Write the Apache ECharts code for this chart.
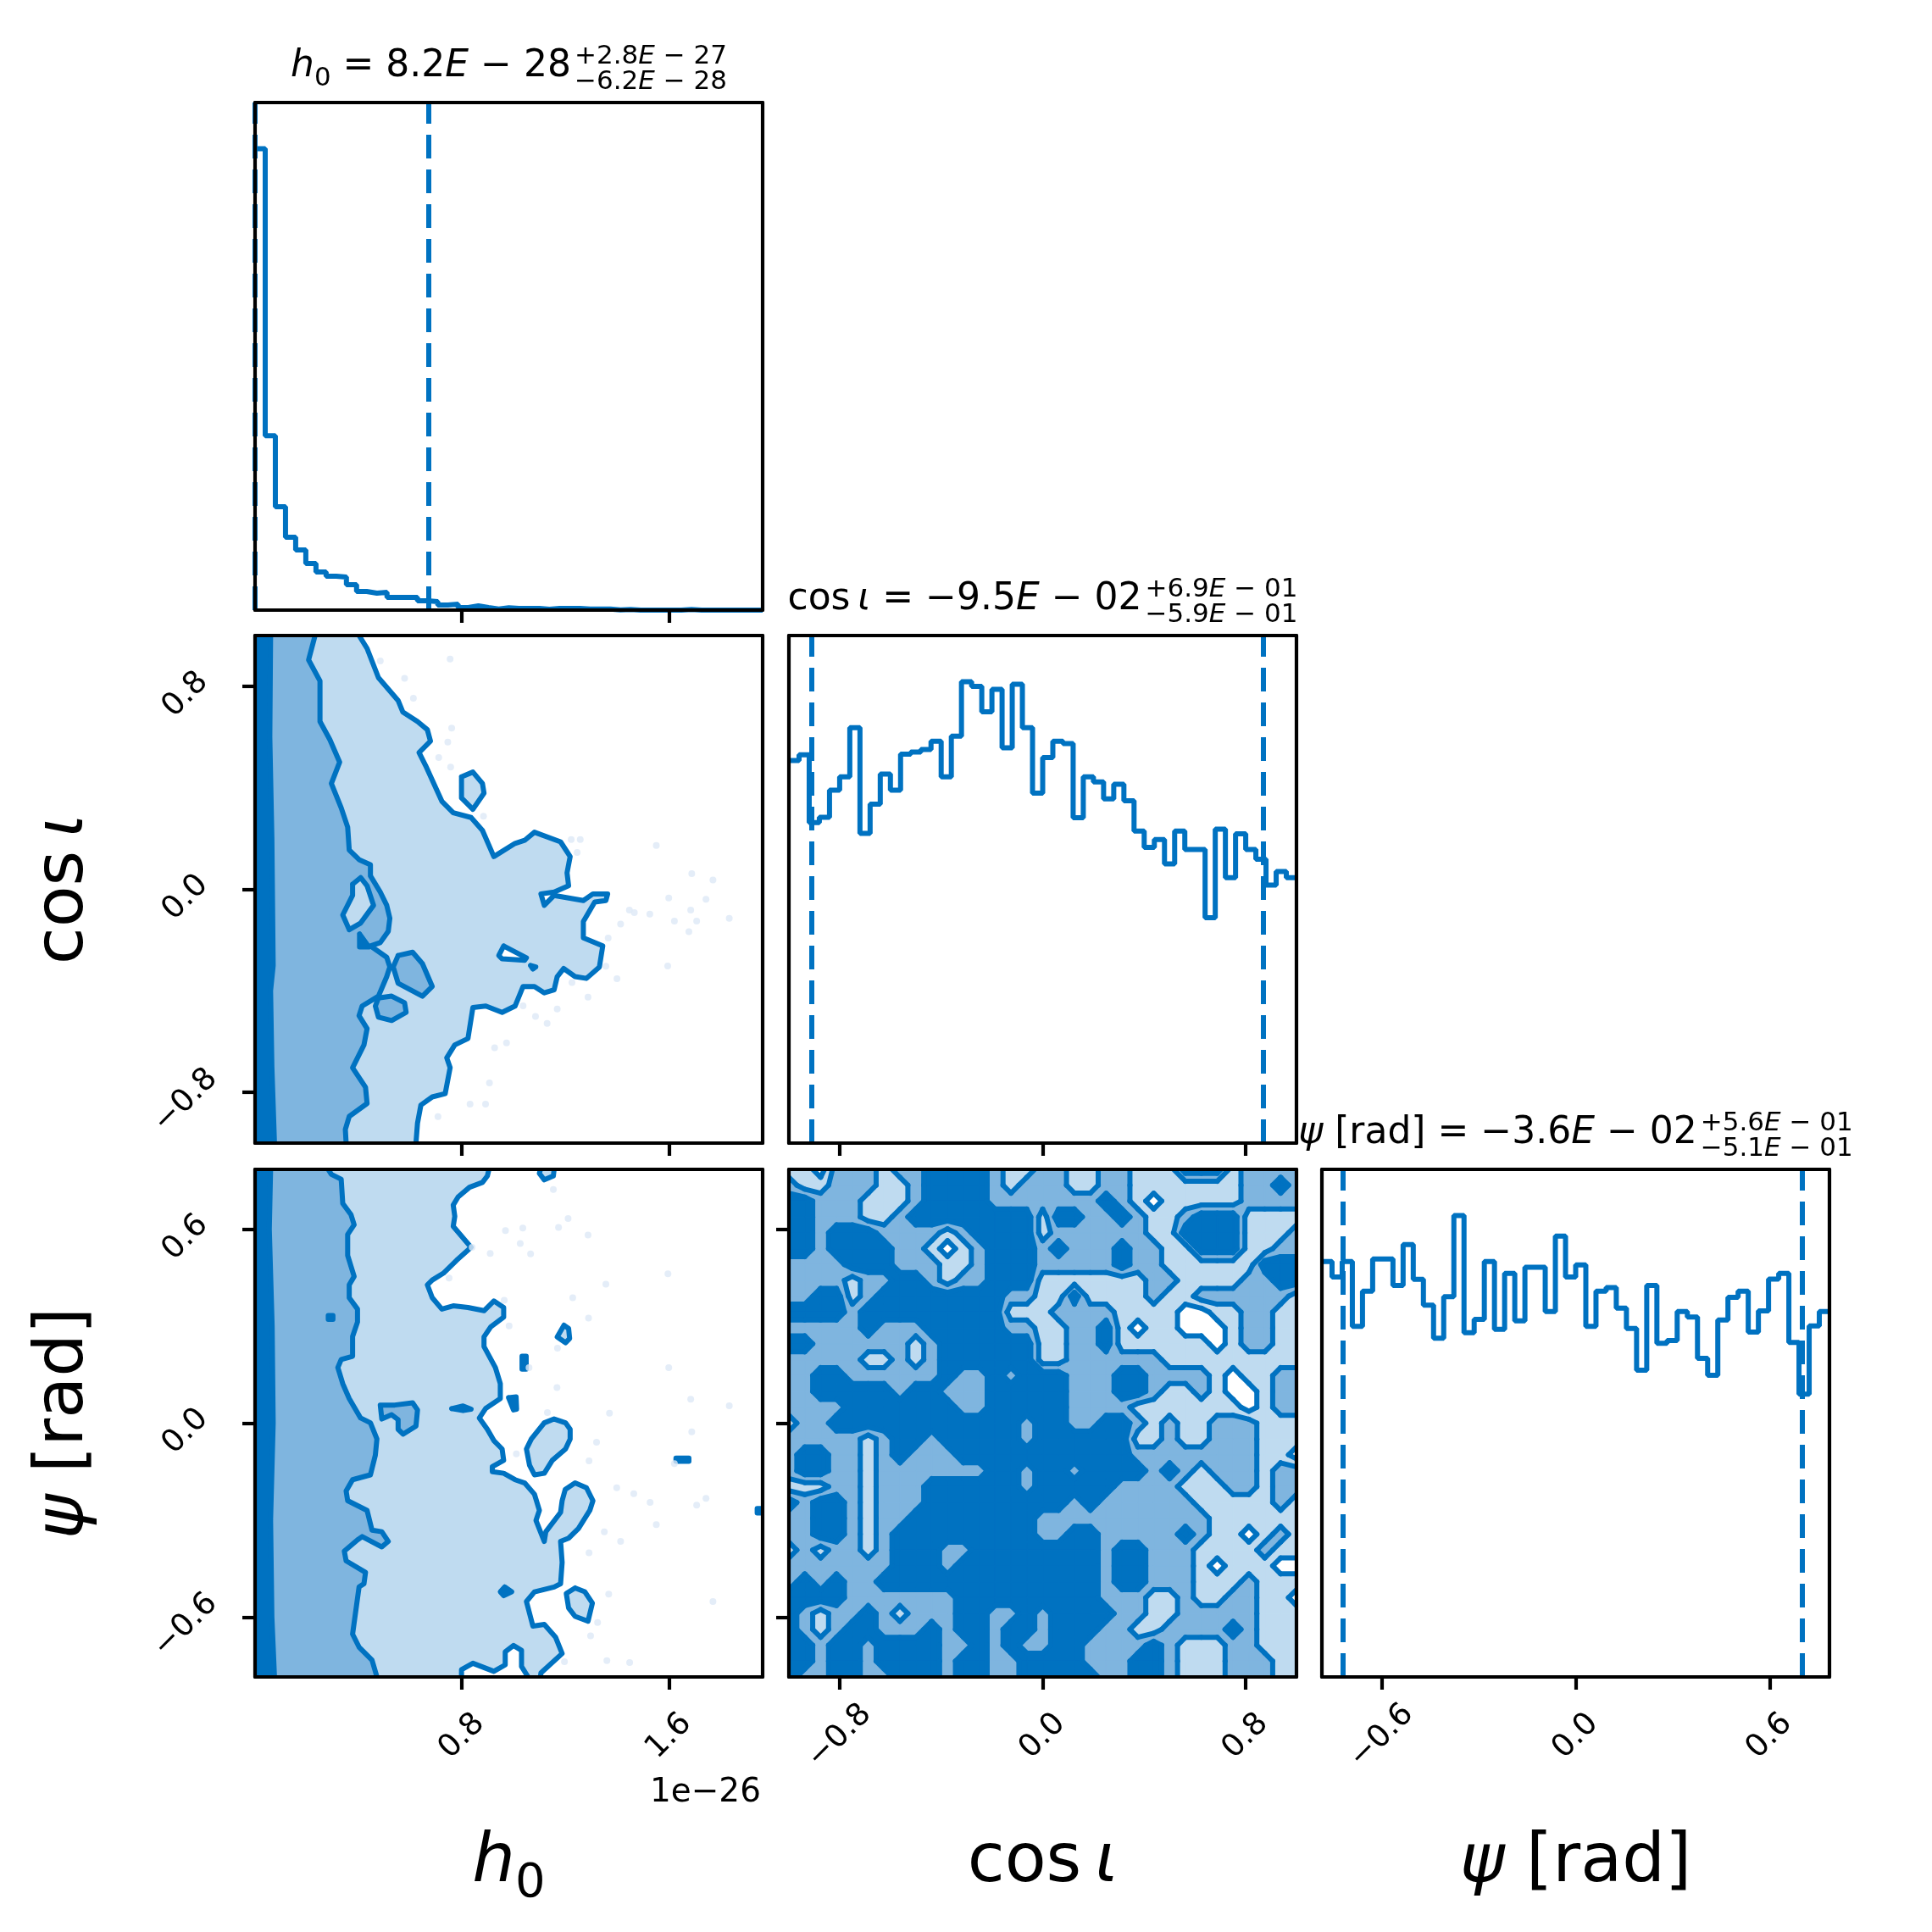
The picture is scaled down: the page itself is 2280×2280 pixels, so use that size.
<!DOCTYPE html>
<html>
<head>
<meta charset="utf-8">
<title>corner plot</title>
<script src="https://cdn.jsdelivr.net/npm/echarts@6/dist/echarts.min.js"></script>
<style>
html, body { margin: 0; padding: 0; background: #fff; }
#chart { width: 2280px; height: 2280px; }
</style>
</head>
<body>
<div id="chart"></div>
<script>
// ranges and ticks
var h0Range = [0, 1.962];
var cosRange = [-1, 1];
var psiRange = [-Math.PI / 4, Math.PI / 4];
var h0Ticks = [0.8, 1.6];
var cosTicks = [-0.8, 0, 0.8];
var psiTicks = [-0.6, 0, 0.6];

// 1d histograms (50 bins each, relative counts)
var h0Counts = [545, 206, 122, 86, 71, 55, 45, 40, 39, 30, 22, 20, 21, 15, 15, 15, 11, 10, 6, 7,
    3, 5, 3, 1.3, 2.7, 2, 2, 2, 1, 2, 2, 2, 1.3, 1.3, 1.3, 0.3, 0.7, 0, 0, 0,
    0, 0, 0.7, 0, 0, 0, 0, 0, 0, 0];
var cosCounts = [1355, 1375, 1135, 1154, 1250, 1297, 1471, 1097, 1200, 1307,
    1250, 1377, 1385, 1394, 1423, 1297, 1441, 1634, 1617, 1527,
    1607, 1400, 1625, 1471, 1239, 1365, 1423, 1415, 1152, 1297,
    1279, 1219, 1271, 1212, 1105, 1047, 1075, 989, 1105, 1040,
    1040, 798, 1112, 940, 1095, 1040, 1005, 914, 962, 940];
var psiCounts = [1472, 1417, 1472, 1242, 1367, 1481, 1481, 1387, 1532, 1409,
    1317, 1200, 1347, 1635, 1220, 1267, 1472, 1232, 1430, 1262,
    1452, 1452, 1295, 1562, 1417, 1460, 1242, 1367, 1380, 1307,
    1235, 1087, 1387, 1182, 1192, 1295, 1275, 1129, 1069, 1265,
    1345, 1367, 1222, 1297, 1410, 1430, 1185, 1002, 1244, 1295];

// dashed quantile lines
var h0Quantiles = [0.003, 0.668];
var cosQuantiles = [-0.91, 0.871];
var psiQuantiles = [-0.718, 0.703];

// h0 - cos iota contour boundaries [h0 (1e-26), cos iota], top to bottom
var h0CosOuter = [[0.402, 1.0], [0.433, 0.949], [0.477, 0.834], [0.553, 0.744], [0.571, 0.699], [0.628, 0.661],
    [0.666, 0.629], [0.678, 0.584], [0.634, 0.539], [0.659, 0.488], [0.722, 0.347], [0.766, 0.302], [0.835, 0.283],
    [0.879, 0.232], [0.923, 0.129], [1.005, 0.181], [1.042, 0.193], [1.080, 0.225], [1.181, 0.187], [1.218, 0.129],
    [1.206, 0.065], [1.212, 0.014], [1.156, -0.011], [1.105, -0.018], [1.118, -0.063], [1.156, -0.024],
    [1.269, -0.044], [1.306, -0.018], [1.363, -0.018], [1.356, -0.044], [1.313, -0.050], [1.269, -0.127],
    [1.269, -0.191], [1.344, -0.223], [1.331, -0.306], [1.281, -0.351], [1.237, -0.344], [1.193, -0.312],
    [1.168, -0.344], [1.156, -0.396], [1.118, -0.408], [1.080, -0.383], [1.036, -0.383], [1.005, -0.460],
    [0.955, -0.485], [0.892, -0.460], [0.842, -0.466], [0.823, -0.588], [0.772, -0.613], [0.741, -0.664],
    [0.754, -0.703], [0.735, -0.805], [0.685, -0.818], [0.641, -0.850], [0.628, -0.921], [0.622, -1.0]];
var h0CosMid = [[0.232, 1.0], [0.207, 0.904], [0.251, 0.821], [0.251, 0.661], [0.289, 0.590], [0.327, 0.501],
    [0.295, 0.417], [0.333, 0.321], [0.358, 0.245], [0.364, 0.155], [0.402, 0.117], [0.446, 0.097], [0.446, 0.053],
    [0.484, -0.011], [0.509, -0.063], [0.521, -0.114], [0.515, -0.165], [0.484, -0.210], [0.446, -0.223],
    [0.509, -0.268], [0.521, -0.306], [0.509, -0.344], [0.477, -0.421], [0.414, -0.460], [0.402, -0.498],
    [0.433, -0.549], [0.421, -0.613], [0.377, -0.703], [0.427, -0.780], [0.433, -0.844], [0.364, -0.895],
    [0.349, -0.946], [0.352, -1.0]];
var h0CosInner = [[0.060, 1.0], [0.057, 0.6], [0.065, 0.2], [0.070, -0.3], [0.060, -0.4], [0.065, -0.7], [0.075, -1.0]];
var h0CosIslands = [
    [1, [[0.798, 0.443], [0.842, 0.462], [0.879, 0.417], [0.885, 0.379], [0.842, 0.315], [0.798, 0.360]]],
    [0, [[0.961, -0.223], [1.049, -0.270], [1.042, -0.280], [0.955, -0.274], [0.942, -0.261]]],
    [1, [[0.377, 0.020], [0.408, 0.046], [0.433, 0.014], [0.458, -0.063], [0.408, -0.133], [0.364, -0.159], [0.339, -0.101], [0.377, -0.024]]],
    [2, [[0.553, -0.261], [0.609, -0.248], [0.647, -0.293], [0.685, -0.383], [0.647, -0.421], [0.553, -0.370], [0.534, -0.306]]],
    [2, [[0.477, -0.428], [0.528, -0.421], [0.578, -0.447], [0.584, -0.485], [0.528, -0.517], [0.477, -0.504], [0.465, -0.460]]],
    [3, [[0.404, -0.176], [0.440, -0.227], [0.404, -0.227]]],
    [3, [[1.065, -0.300], [1.085, -0.306], [1.074, -0.314]]]
];
var h0CosDots = [[0.484, 0.900], [0.754, 0.907], [0.578, 0.831], [0.612, 0.753], [0.760, 0.635], [0.745, 0.580],
    [0.710, 0.519], [0.756, 0.482], [0.883, 0.288], [1.222, 0.196], [1.257, 0.196], [1.245, 0.145], [1.551, 0.173],
    [1.688, 0.062], [1.770, 0.037], [1.599, -0.034], [1.743, -0.039], [1.447, -0.082], [1.466, -0.092],
    [1.526, -0.098], [1.684, -0.082], [1.621, -0.125], [1.707, -0.125], [1.833, -0.114], [1.413, -0.137],
    [1.677, -0.167], [1.365, -0.192], [1.595, -0.302], [1.356, -0.303], [1.399, -0.352], [1.225, -0.367],
    [1.287, -0.425], [1.036, -0.459], [1.168, -0.472], [1.084, -0.501], [1.129, -0.528], [0.972, -0.605],
    [0.926, -0.624], [0.906, -0.763], [0.831, -0.846], [0.891, -0.846], [0.707, -0.896]];

// h0 - psi contour boundaries [h0 (1e-26), psi], top to bottom
var h0PsiOuter = [[0.904, 0.785], [0.898, 0.765], [0.879, 0.745], [0.829, 0.730], [0.785, 0.700], [0.766, 0.675],
    [0.772, 0.640], [0.766, 0.609], [0.835, 0.544], [0.779, 0.504], [0.728, 0.464], [0.685, 0.443], [0.666, 0.428],
    [0.685, 0.388], [0.722, 0.353], [0.766, 0.363], [0.823, 0.358], [0.885, 0.348], [0.923, 0.378], [0.961, 0.358],
    [0.961, 0.328], [0.911, 0.298], [0.885, 0.267], [0.885, 0.237], [0.929, 0.172], [0.948, 0.122], [0.948, 0.076],
    [0.892, 0.046], [0.867, 0.016], [0.898, -0.019], [0.923, -0.054], [0.955, -0.080], [0.961, -0.115],
    [0.917, -0.135], [0.917, -0.150], [0.961, -0.155], [1.005, -0.175], [1.042, -0.185], [1.080, -0.220],
    [1.099, -0.270], [1.086, -0.301], [1.118, -0.366], [1.124, -0.336], [1.181, -0.276], [1.187, -0.240],
    [1.199, -0.205], [1.237, -0.185], [1.281, -0.200], [1.306, -0.240], [1.294, -0.270], [1.250, -0.326],
    [1.212, -0.356], [1.181, -0.366], [1.187, -0.431], [1.181, -0.497], [1.156, -0.507], [1.080, -0.522],
    [1.049, -0.552], [1.074, -0.628], [1.118, -0.623], [1.162, -0.663], [1.187, -0.713], [1.105, -0.773],
    [1.103, -0.785], [1.055, -0.785], [1.030, -0.753], [1.030, -0.703], [0.999, -0.688], [0.967, -0.708],
    [0.967, -0.748], [0.923, -0.768], [0.842, -0.743], [0.798, -0.763], [0.798, -0.785]];
var h0PsiMid = [[0.283, 0.785], [0.295, 0.770], [0.333, 0.755], [0.339, 0.680], [0.371, 0.645], [0.383, 0.614],
    [0.358, 0.584], [0.358, 0.519], [0.383, 0.454], [0.364, 0.428], [0.364, 0.388], [0.396, 0.353], [0.396, 0.313],
    [0.377, 0.268], [0.377, 0.207], [0.333, 0.197], [0.320, 0.172], [0.339, 0.122], [0.364, 0.076], [0.408, 0.016],
    [0.446, 0.001], [0.471, -0.049], [0.465, -0.099], [0.446, -0.160], [0.377, -0.175], [0.352, -0.210],
    [0.358, -0.240], [0.433, -0.270], [0.452, -0.331], [0.490, -0.336], [0.515, -0.366], [0.490, -0.383],
    [0.414, -0.351], [0.396, -0.361], [0.345, -0.396], [0.352, -0.426], [0.427, -0.462], [0.421, -0.497],
    [0.402, -0.507], [0.377, -0.653], [0.402, -0.693], [0.452, -0.733], [0.471, -0.785]];
var h0PsiInner = [[0.060, 0.785], [0.055, 0.6], [0.066, 0.3], [0.070, 0.0], [0.060, -0.3], [0.065, -0.6], [0.075, -0.785]];
var h0PsiIslands = [
    [1, [[1.103, 0.785], [1.156, 0.785], [1.153, 0.765], [1.118, 0.753], [1.099, 0.773]]],
    [1, [[1.194, 0.303], [1.212, 0.293], [1.216, 0.262], [1.200, 0.249], [1.168, 0.267]]],
    [1, [[1.118, 0.001], [1.156, 0.013], [1.200, 0.001], [1.218, -0.019], [1.218, -0.049], [1.200, -0.080],
        [1.149, -0.115], [1.118, -0.155], [1.080, -0.160], [1.061, -0.130], [1.049, -0.080], [1.068, -0.049]]],
    [1, [[1.237, -0.510], [1.275, -0.522], [1.304, -0.557], [1.287, -0.613], [1.237, -0.598], [1.212, -0.572], [1.203, -0.527]]],
    [2, [[0.484, 0.056], [0.540, 0.056], [0.609, 0.063], [0.628, 0.041], [0.622, -0.009], [0.572, -0.034],
        [0.553, -0.019], [0.553, 0.011], [0.528, 0.026], [0.490, 0.013]]],
    [3, [[0.760, 0.045], [0.804, 0.053], [0.835, 0.043], [0.804, 0.039]]],
    [3, [[1.032, 0.207], [1.048, 0.207], [1.048, 0.167], [1.032, 0.167]]],
    [3, [[0.980, 0.079], [1.009, 0.081], [1.011, 0.043], [0.999, 0.041]]],
    [3, [[0.965, -0.507], [0.992, -0.522], [0.961, -0.534], [0.948, -0.522]]],
    [3, [[1.627, -0.108], [1.677, -0.108], [1.677, -0.118], [1.627, -0.118]]],
    [3, [[1.941, -0.264], [1.962, -0.264], [1.962, -0.278], [1.941, -0.278]]],
    [3, [[0.283, 0.333], [0.301, 0.333], [0.301, 0.321], [0.283, 0.321]]]
];
var h0PsiDots = [[1.153, 0.723], [1.210, 0.633], [1.173, 0.606], [1.035, 0.604], [0.968, 0.596], [1.287, 0.582],
    [1.025, 0.556], [0.909, 0.525], [1.065, 0.524], [0.839, 0.544], [1.596, 0.462], [0.750, 0.449], [1.356, 0.430],
    [1.228, 0.388], [0.963, 0.380], [1.289, 0.325], [0.982, 0.301], [1.169, 0.232], [1.599, 0.172], [1.059, 0.172],
    [1.167, 0.110], [1.684, 0.074], [1.833, 0.054], [1.130, 0.033], [1.370, 0.031], [1.688, -0.027],
    [1.320, -0.059], [1.010, -0.095], [1.291, -0.117], [1.621, -0.125], [1.398, -0.200], [1.464, -0.218],
    [1.527, -0.245], [1.743, -0.233], [1.707, -0.254], [1.551, -0.314], [1.350, -0.336], [1.413, -0.366],
    [1.291, -0.401], [1.367, -0.529], [1.770, -0.552], [1.324, -0.617], [1.297, -0.658], [1.196, -0.738],
    [1.360, -0.735], [1.448, -0.741]];

// cos iota - psi density level per grid node (0 white .. 3 darkest), rows from psi max to psi min
var cosPsiLevels = [
    '110222122333321122112211133312222',
    '211222112333321222112211111112232',
    '332221112333322222223210111112222',
    '332221123333333313322321123331111',
    '332333222212333312222221133331112',
    '332333322101233323222322113331122',
    '222233322211233322222322111111333',
    '222212233212233311111112211112233',
    '223312333333332211311112112222221',
    '333323333333331112222111100112211',
    '222223222333332211223101100012211',
    '332222221233333311223111111012211',
    '222221121233333311222222111111111',
    '223322222232232333222332222101122',
    '223333323322233333222332112100122',
    '222233333332233333222211111110122',
    '122333333333333233223321211222111',
    '222221233233333233333311211222111',
    '233221232223333333333322222222110',
    '233221222222233233233332321222122',
    '111221222333333233333222211122122',
    '323321222333333333232222221111121',
    '223321223333333322222222222111111',
    '223321233333333322332222232110121',
    '121221233322333333332332221111211',
    '222222233323333333332332221011100',
    '232322333333333333332332221112111',
    '333322222223333333332221121122110',
    '321223212223322323333221122222111',
    '321233222323323323332211222232111',
    '332332333322323223322223211122111',
    '332332333323322333322233211122211',
    '322332233323322333332233211122211'
];

// titles and labels ('s' marks a subscript)
var h0Title = [[['h', 'i'], ['0', 's'], [' = 8.2', 'n'], ['E', 'i'], [' \u2212 28', 'n']],
    [['+2.8', 'n'], ['E', 'i'], [' \u2212 27', 'n']], [['\u22126.2', 'n'], ['E', 'i'], [' \u2212 28', 'n']]];
var cosTitle = [[['cos\u2009', 'n'], ['\u03b9', 'i'], [' = \u22129.5', 'n'], ['E', 'i'], [' \u2212 02', 'n']],
    [['+6.9', 'n'], ['E', 'i'], [' \u2212 01', 'n']], [['\u22125.9', 'n'], ['E', 'i'], [' \u2212 01', 'n']]];
var psiTitle = [[['\u03c8', 'i'], [' [rad] = \u22123.6', 'n'], ['E', 'i'], [' \u2212 02', 'n']],
    [['+5.6', 'n'], ['E', 'i'], [' \u2212 01', 'n']], [['\u22125.1', 'n'], ['E', 'i'], [' \u2212 01', 'n']]];
var h0Name = [['h', 'i'], ['0', 's']];
var cosName = [['cos\u2009', 'n'], ['\u03b9', 'i']];
var psiName = [['\u03c8', 'i'], [' [rad]', 'n']];
var h0Offset = '1e\u221226';

// ---- styling / layout ----
var LINE = '#0072c1';
var FILL = ['#ffffff', '#bfdbf0', '#7fb5df', '#0072c1'];
var DOT = '#dde9f6';
var FONT = 'DejaVu Sans';
var LW = 6;
var FRAME = 4.2;
var GL = [301, 931, 1560], GT = [121, 750, 1380], GS = 599;

var panels = [
    {r: 0, c: 0}, {r: 1, c: 0}, {r: 1, c: 1},
    {r: 2, c: 0}, {r: 2, c: 1}, {r: 2, c: 2}
];

function fmtTick(v) {
    return (v < 0 ? '\u2212' : '') + Math.abs(v).toFixed(1);
}

var frameLine = {show: true, onZero: false, lineStyle: {color: '#000', width: FRAME}};

function valueAxis(dim, idx, range, ticks, labels) {
    var isX = dim === 'x';
    return {
        type: 'value', gridIndex: idx, min: range[0], max: range[1],
        position: isX ? 'bottom' : 'left', z: 10,
        axisLine: frameLine,
        axisTick: {show: true, length: 15, customValues: ticks, lineStyle: {color: '#000', width: FRAME}},
        axisLabel: {
            show: labels, customValues: ticks, rotate: 45, margin: isX ? 70 : 72,
            align: 'center', verticalAlign: 'middle', padding: isX ? 0 : [28, 28, 0, 0],
            fontFamily: FONT, fontSize: 37, color: '#000', formatter: fmtTick
        },
        splitLine: {show: false}
    };
}

// axis drawing only a frame edge (no ticks, no labels)
function frameAxis(idx, range, pos) {
    return {
        type: 'value', gridIndex: idx, min: range[0], max: range[1], position: pos, z: 10,
        axisLine: frameLine, axisTick: {show: false}, axisLabel: {show: false}, splitLine: {show: false}
    };
}

function histRange(counts) {
    return [0, 1.1 * Math.max.apply(null, counts)];
}

function histSeries(idx, range, counts, quantiles) {
    var n = counts.length, w = (range[1] - range[0]) / n;
    var d = [];
    for (var i = 0; i < n; i++) d.push([range[0] + i * w, counts[i]]);
    d.push([range[1], counts[n - 1]]);
    return {
        type: 'line', xAxisIndex: idx, yAxisIndex: idx, step: 'end', showSymbol: false, silent: true,
        lineStyle: {color: LINE, width: LW}, data: d,
        markLine: {
            silent: true, symbol: ['none', 'none'], label: {show: false},
            lineStyle: {color: LINE, width: LW, type: [28, 13]},
            data: quantiles.map(function (q) { return {xAxis: q}; })
        }
    };
}

function dotSeries(idx, pts) {
    return {type: 'scatter', xAxisIndex: idx, yAxisIndex: idx, silent: true, symbolSize: 8,
        itemStyle: {color: DOT}, data: pts};
}

// contour shapes for the h0 panels
function bandShapes(outer, mid, inner, islands, yr) {
    var list = [];
    [[1, outer], [2, mid], [3, inner]].forEach(function (b) {
        list.push({level: b[0], poly: [[0, yr[1]]].concat(b[1], [[0, yr[0]]]), line: b[1]});
    });
    islands.forEach(function (s) {
        list.push({level: s[0], poly: s[1], line: s[1].concat([s[1][0]])});
    });
    return list;
}

function onEdge(y, yr) {
    return Math.abs(y - yr[0]) < 0.005 || Math.abs(y - yr[1]) < 0.005;
}

function splitEdges(pts, yr) {
    var out = [], cur = [pts[0]];
    for (var i = 1; i < pts.length; i++) {
        if (onEdge(pts[i - 1][1], yr) && onEdge(pts[i][1], yr)) {
            if (cur.length > 1) out.push(cur);
            cur = [pts[i]];
        } else {
            cur.push(pts[i]);
        }
    }
    if (cur.length > 1) out.push(cur);
    return out;
}

function shapeSeries(idx, shapes, yr, mode) {
    return {
        type: 'custom', xAxisIndex: idx, yAxisIndex: idx, clip: true, silent: true,
        data: shapes.map(function (s, k) { return [s.poly[0][0], s.poly[0][1], k]; }),
        renderItem: function (params, api) {
            var s = shapes[api.value(2)];
            if (mode === 'fill') {
                return {type: 'polygon', shape: {points: s.poly.map(function (p) { return api.coord(p); })},
                    style: {fill: FILL[s.level], stroke: FILL[s.level], lineWidth: 1}};
            }
            return {type: 'group', children: splitEdges(s.line, yr).map(function (seg) {
                return {type: 'polyline', shape: {points: seg.map(function (p) { return api.coord(p); })},
                    style: {fill: 'none', stroke: LINE, lineWidth: LW, lineJoin: 'round', lineCap: 'round'}};
            })};
        }
    };
}

// filled contours of the level grid (marching squares)
var NG = cosPsiLevels.length;
function lv(r, c) { return +cosPsiLevels[r].charAt(c); }
function gx(c) { return cosRange[0] + c * (cosRange[1] - cosRange[0]) / (NG - 1); }
function gy(r) { return psiRange[1] - r * (psiRange[1] - psiRange[0]) / (NG - 1); }
var cells = [];
for (var r = 0; r < NG - 1; r++) {
    for (var c = 0; c < NG - 1; c++) cells.push([gx(c + 0.5), gy(r + 0.5), r, c]);
}

function cellGeom(api, r, c, t) {
    var v = [lv(r, c), lv(r, c + 1), lv(r + 1, c + 1), lv(r + 1, c)];
    var p = [api.coord([gx(c), gy(r)]), api.coord([gx(c + 1), gy(r)]),
        api.coord([gx(c + 1), gy(r + 1)]), api.coord([gx(c), gy(r + 1)])];
    var above = v.map(function (x) { return x >= t; });
    var cross = [];
    for (var k = 0; k < 4; k++) {
        var a = v[k], b = v[(k + 1) % 4];
        if ((a - t) * (b - t) < 0) {
            var f = (t - a) / (b - a), pa = p[k], pb = p[(k + 1) % 4];
            cross[k] = [pa[0] + (pb[0] - pa[0]) * f, pa[1] + (pb[1] - pa[1]) * f];
        } else {
            cross[k] = null;
        }
    }
    var n = above.filter(Boolean).length;
    var polys = [], segs = [];
    if (n === 0) return {polys: polys, segs: segs};
    if (n === 4) return {polys: [p], segs: segs};
    function walk() {
        var out = [];
        for (var k = 0; k < 4; k++) {
            if (above[k]) out.push(p[k]);
            if (cross[k]) out.push(cross[k]);
        }
        return out;
    }
    if (n === 2 && above[0] === above[2]) {
        var centerAbove = (v[0] + v[1] + v[2] + v[3]) / 4 >= t;
        for (var k2 = 0; k2 < 4; k2++) {
            var prev = cross[(k2 + 3) % 4], next = cross[k2];
            if (centerAbove && !above[k2]) segs.push([prev, next]);
            if (!centerAbove && above[k2]) {
                segs.push([prev, next]);
                polys.push([prev, p[k2], next]);
            }
        }
        if (centerAbove) polys.push(walk());
    } else {
        polys.push(walk());
        var cs = cross.filter(Boolean);
        segs.push([cs[0], cs[1]]);
    }
    return {polys: polys, segs: segs};
}

var THRESH = [0.5, 1.5, 2.5];

function gridFillSeries(idx, layer) {
    return {
        type: 'custom', xAxisIndex: idx, yAxisIndex: idx, clip: true, silent: true, data: cells,
        renderItem: function (params, api) {
            var g = cellGeom(api, api.value(2), api.value(3), THRESH[layer]);
            return {type: 'group', children: g.polys.map(function (pts) {
                return {type: 'polygon', shape: {points: pts},
                    style: {fill: FILL[layer + 1], stroke: FILL[layer + 1], lineWidth: 1.2}};
            })};
        }
    };
}

function gridLineSeries(idx) {
    return {
        type: 'custom', xAxisIndex: idx, yAxisIndex: idx, clip: true, silent: true, data: cells,
        renderItem: function (params, api) {
            var kids = [];
            THRESH.forEach(function (t) {
                cellGeom(api, api.value(2), api.value(3), t).segs.forEach(function (s) {
                    kids.push({type: 'line', shape: {x1: s[0][0], y1: s[0][1], x2: s[1][0], y2: s[1][1]},
                        style: {stroke: LINE, lineWidth: LW, lineCap: 'round'}});
                });
            });
            return {type: 'group', children: kids};
        }
    };
}

// text helpers
var measureCtx = document.createElement('canvas').getContext('2d');
function measure(parts, size) {
    var w = 0;
    parts.forEach(function (p) {
        var s = p[1] === 's' ? size * 0.7 : size;
        measureCtx.font = (p[1] === 'i' ? 'italic ' : '') + s + 'px "' + FONT + '"';
        w += measureCtx.measureText(p[0]).width;
    });
    return w;
}
function richOf(parts) {
    return parts.map(function (p) { return '{' + p[1] + '|' + p[0] + '}'; }).join('');
}
function richStyles(size) {
    return {
        i: {fontStyle: 'italic', fontSize: size, fontFamily: FONT, fill: '#000', lineHeight: size, verticalAlign: 'middle'},
        n: {fontSize: size, fontFamily: FONT, fill: '#000', lineHeight: size, verticalAlign: 'middle'},
        s: {fontSize: size * 0.7, fontFamily: FONT, fill: '#000', lineHeight: size * 1.32, verticalAlign: 'bottom'}
    };
}
function textEl(parts, size, x, y, align, rotation) {
    return {
        type: 'text', x: x, y: y, rotation: rotation || 0, silent: true,
        style: {text: richOf(parts), rich: richStyles(size), fontSize: size, fontFamily: FONT,
            fill: '#000', align: align, verticalAlign: 'middle'}
    };
}

function titleEls(title, col, row) {
    var mainW = measure(title[0], 44);
    var sideW = Math.max(measure(title[1], 31), measure(title[2], 31));
    var cx = GL[col] + GS / 2;
    var X = cx - (mainW + 4 + sideW) / 2 + mainW;
    var top = GT[row];
    return [
        textEl(title[0], 44, X, top - 42, 'right'),
        textEl(title[1], 31, X + 4, top - 54, 'left'),
        textEl(title[2], 31, X + 4, top - 24, 'left')
    ];
}

var graphics = [].concat(
    titleEls(h0Title, 0, 0), titleEls(cosTitle, 1, 1), titleEls(psiTitle, 2, 2),
    [
        textEl(h0Name, 80, GL[0] + GS / 2, 2199, 'center'),
        textEl(cosName, 80, GL[1] + GS / 2, 2199, 'center'),
        textEl(psiName, 80, GL[2] + GS / 2, 2199, 'center'),
        textEl(cosName, 80, 76, GT[1] + GS / 2, 'center', Math.PI / 2),
        textEl(psiName, 80, 76, GT[2] + GS / 2, 'center', Math.PI / 2),
        textEl([[h0Offset, 'n']], 39, GL[0] + GS - 2, 2116, 'right')
    ]
);

var h0CosShapes = bandShapes(h0CosOuter, h0CosMid, h0CosInner, h0CosIslands, cosRange);
var h0PsiShapes = bandShapes(h0PsiOuter, h0PsiMid, h0PsiInner, h0PsiIslands, psiRange);

var xRanges = [h0Range, h0Range, cosRange, h0Range, cosRange, psiRange];
var yRanges = [histRange(h0Counts), cosRange, histRange(cosCounts), psiRange, psiRange, histRange(psiCounts)];

var option = {
    animation: false,
    backgroundColor: '#fff',
    grid: panels.map(function (p) {
        return {left: GL[p.c], top: GT[p.r], width: GS, height: GS, show: false,
            containLabel: false, outerBoundsMode: 'none'};
    }),
    xAxis: [
        valueAxis('x', 0, h0Range, h0Ticks, false),
        valueAxis('x', 1, h0Range, h0Ticks, false),
        valueAxis('x', 2, cosRange, cosTicks, false),
        valueAxis('x', 3, h0Range, h0Ticks, true),
        valueAxis('x', 4, cosRange, cosTicks, true),
        valueAxis('x', 5, psiRange, psiTicks, true)
    ].concat(xRanges.map(function (rg, i) { return frameAxis(i, rg, 'top'); })),
    yAxis: [
        frameAxis(0, yRanges[0], 'left'),
        valueAxis('y', 1, cosRange, cosTicks, true),
        frameAxis(2, yRanges[2], 'left'),
        valueAxis('y', 3, psiRange, psiTicks, true),
        valueAxis('y', 4, psiRange, psiTicks, false),
        frameAxis(5, yRanges[5], 'left')
    ].concat(yRanges.map(function (rg, i) { return frameAxis(i, rg, 'right'); })),
    series: [
        histSeries(0, h0Range, h0Counts, h0Quantiles),
        dotSeries(1, h0CosDots),
        shapeSeries(1, h0CosShapes, cosRange, 'fill'),
        shapeSeries(1, h0CosShapes, cosRange, 'line'),
        histSeries(2, cosRange, cosCounts, cosQuantiles),
        dotSeries(3, h0PsiDots),
        shapeSeries(3, h0PsiShapes, psiRange, 'fill'),
        shapeSeries(3, h0PsiShapes, psiRange, 'line'),
        gridFillSeries(4, 0),
        gridFillSeries(4, 1),
        gridFillSeries(4, 2),
        gridLineSeries(4),
        histSeries(5, psiRange, psiCounts, psiQuantiles)
    ],
    graphic: graphics
};

var chart = echarts.init(document.getElementById('chart'));
chart.setOption(option);
</script>
</body>
</html>
